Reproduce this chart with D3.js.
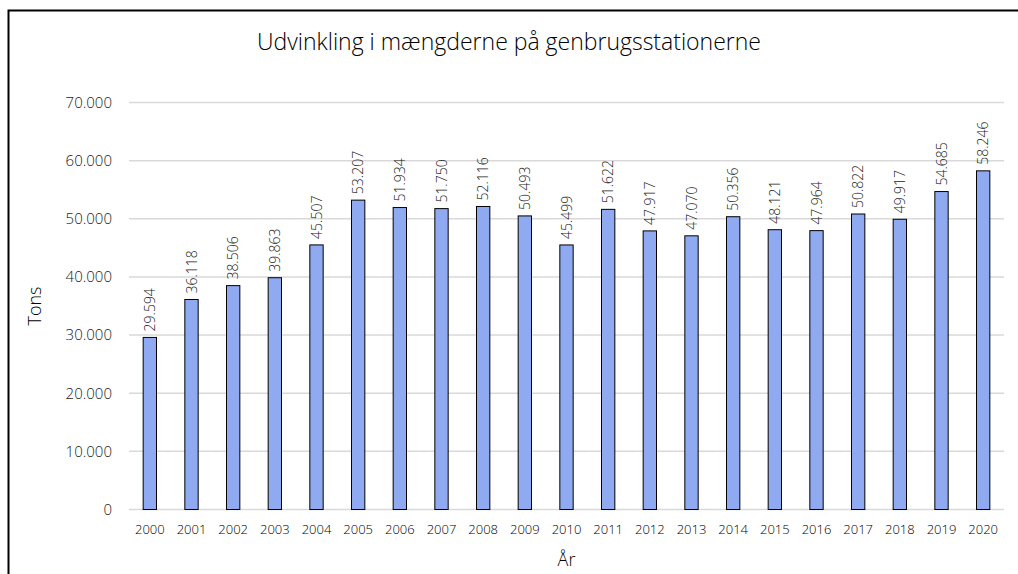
<!DOCTYPE html>
<html>
<head>
<meta charset="utf-8">
<script src="https://cdn.jsdelivr.net/npm/d3@7"></script>
<style>
  body { margin: 0; background: #fff; }
  svg text { font-family: "Open Sans", sans-serif; font-weight: 300; fill: #1a1a1a; }
</style>
</head>
<body>
<svg id="chart" width="1018" height="574"></svg>
<script>
var years = ['2000','2001','2002','2003','2004','2005','2006','2007','2008','2009','2010',
             '2011','2012','2013','2014','2015','2016','2017','2018','2019','2020'];
var tons = [29594, 36118, 38506, 39863, 45507, 53207, 51934, 51750, 52116, 50493, 45499,
            51622, 47917, 47070, 50356, 48121, 47964, 50822, 49917, 54685, 58246];
var yTicks = [0, 10000, 20000, 30000, 40000, 50000, 60000, 70000];
var title = 'Udvinkling i mængderne på genbrugsstationerne';

var
  svg = d3.select('#chart'),
  margin = {top: 102.5, right: 14, bottom: 64.5, left: 129},
  width = +svg.attr('width') - margin.left - margin.right,
  height = +svg.attr('height') - margin.top - margin.bottom
  ;

var locale = d3.formatLocale({decimal: ',', thousands: '.', grouping: [3], currency: ['', ' kr']});
var fmt = locale.format(',d');

var xScale = d3.scaleBand()
  .domain(years)
  .range([0, width])
  .paddingInner(0.68)
  .paddingOuter(0.34);

var yScale = d3.scaleLinear()
  .domain([0, 70000])
  .range([height, 0]);

// frame (left + top only)
svg.append('path')
  .attr('d', 'M8.5,574 L8.5,10.5 L1018,10.5')
  .attr('fill', 'none')
  .attr('stroke', '#000')
  .attr('stroke-width', 2);

svg.append('text')
  .attr('x', 509)
  .attr('y', 50)
  .attr('text-anchor', 'middle')
  .style('font-size', '23px')
  .style('fill', '#000')
  .text(title);

var g = svg.append('g').attr('transform', 'translate(' + margin.left + ',' + margin.top + ')');

// grid lines
g.selectAll('.grid')
  .data(yTicks)
  .enter().append('line')
  .attr('class', 'grid')
  .attr('x1', 0)
  .attr('x2', width)
  .attr('y1', function(d){ return yScale(d); })
  .attr('y2', function(d){ return yScale(d); })
  .attr('stroke', '#d9d9d9')
  .attr('stroke-width', 1.5);

var yAxis = g.append('g')
  .attr('class', 'axis axis--y')
  .call(d3.axisLeft(yScale).tickValues(yTicks).tickFormat(fmt).tickSize(0).tickPadding(17));
yAxis.select('.domain').remove();
yAxis.selectAll('text').style('font-size', '15px').style('fill', '#1a1a1a');

var xAxis = g.append('g')
  .attr('class', 'axis axis--x')
  .attr('transform', 'translate(0,' + height + ')')
  .call(d3.axisBottom(xScale).tickSize(0).tickPadding(15));
xAxis.select('.domain').remove();
xAxis.selectAll('text').style('font-size', '13px').style('fill', '#000');

g.selectAll('.bar')
  .data(tons)
  .enter().append('rect')
  .attr('class', 'bar')
  .attr('x', function(d, i){ return xScale(years[i]); })
  .attr('y', function(d){ return yScale(d); })
  .attr('width', xScale.bandwidth())
  .attr('height', function(d){ return height - yScale(d); })
  .attr('fill', '#8faaf0')
  .attr('stroke', '#000')
  .attr('stroke-width', 1);

g.selectAll('.lbl')
  .data(tons)
  .enter().append('text')
  .attr('class', 'lbl')
  .attr('transform', function(d, i){
    var cx = xScale(years[i]) + xScale.bandwidth() / 2;
    return 'translate(' + (cx + 5) + ',' + (yScale(d) - 6) + ') rotate(-90)';
  })
  .style('font-size', '14px')
  .style('fill', '#1a1a1a')
  .text(function(d){ return fmt(d); });

svg.append('text')
  .attr('transform', 'translate(41,' + (margin.top + height / 2) + ') rotate(-90)')
  .attr('text-anchor', 'middle')
  .style('font-size', '18px')
  .style('fill', '#000')
  .text('Tons');

svg.append('text')
  .attr('x', margin.left + width / 2)
  .attr('y', 566)
  .attr('text-anchor', 'middle')
  .style('font-size', '18px')
  .style('fill', '#000')
  .text('År');
</script>
</body>
</html>
